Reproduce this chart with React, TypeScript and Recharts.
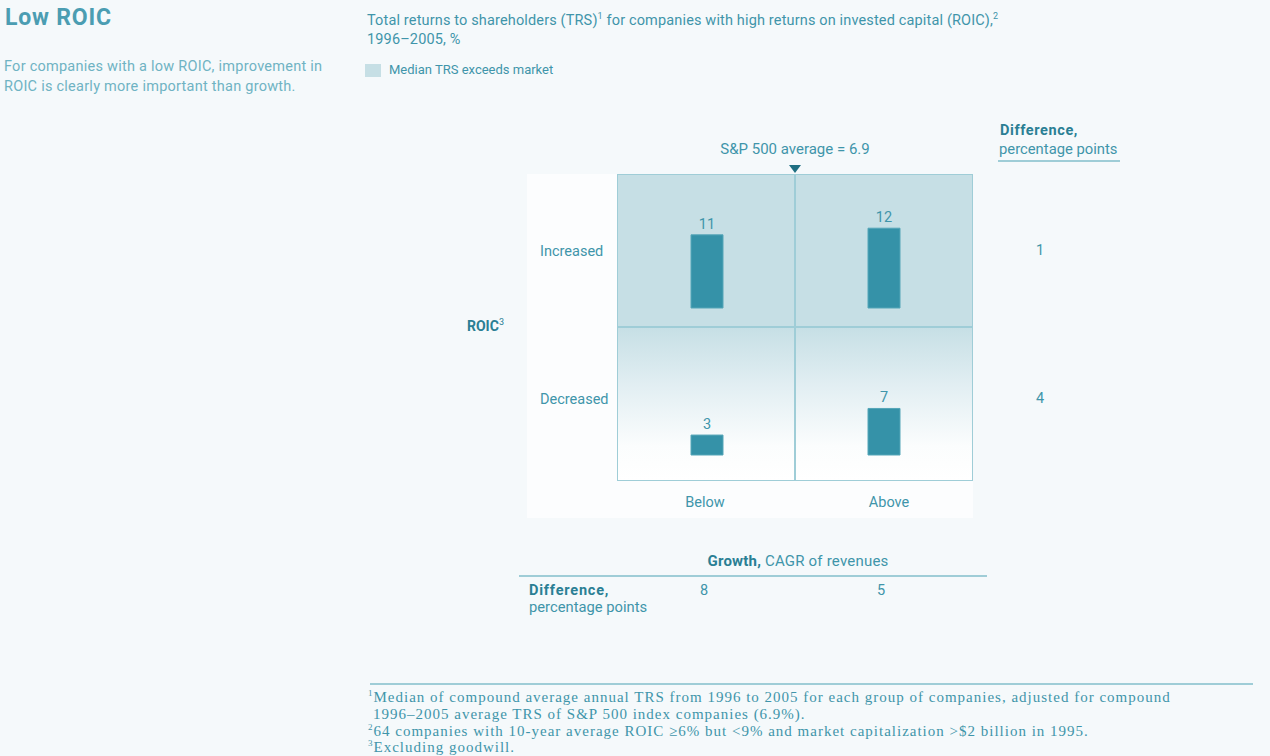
import { BarChart, Bar, XAxis, YAxis, LabelList } from "recharts"

const growthCats = ["Below", "Above"]
const roicRows = ["Increased", "Decreased"]
const increasedTrs = [11, 12]
const decreasedTrs = [3, 7]
const rowDiff = [1, 4]
const colDiff = [8, 5]
const spAverage = 6.9

const teal = "#3f95aa"
const dark = "#2a7f94"
const barColor = "#3592a8"
const gridLine = "#9fcdd7"
const shade = "#c6dfe5"
const font = "Roboto, 'Noto Sans', sans-serif"
const sup = { fontSize: 9, lineHeight: 0 }

const topData = growthCats.map((g, i) => ({ growth: g, trs: increasedTrs[i] }))
const bottomData = growthCats.map((g, i) => ({ growth: g, trs: decreasedTrs[i] }))

const abs = (left: number, top: number, extra: any = {}) => ({ position: "absolute" as const, left, top, ...extra })

function RowChart({ data, height, bottom, max }: { data: any[]; height: number; bottom: number; max: number }) {
  return (
    <BarChart width={354} height={height} data={data} margin={{ top: 0, right: 0, bottom, left: 0 }} barSize={32}>
      <XAxis dataKey="growth" hide />
      <YAxis hide domain={[0, max]} />
      <Bar dataKey="trs" fill={barColor} stroke="#55a6b8" strokeWidth={1} isAnimationActive={false}>
        <LabelList dataKey="trs" position="top" offset={6} fill={teal} fontSize={14.5} fontFamily={font} />
      </Bar>
    </BarChart>
  )
}

export default function App() {
  return (
    <div style={{ position: "absolute", left: 0, top: 0, width: 1270, height: 756, background: "#f5f9fb", fontFamily: font, color: teal, overflow: "hidden" }}>
      {/* left intro */}
      <div style={abs(5, 4, { fontSize: 23, fontWeight: 700, letterSpacing: 0.8, color: "#4b9db2" })}>Low ROIC</div>
      <div style={abs(4, 57, { fontSize: 14.5, letterSpacing: 0.25, lineHeight: "20px", color: "#6fb3c3", width: 350 })}>
        For companies with a low ROIC, improvement in<br />ROIC is clearly more important than growth.
      </div>

      {/* header */}
      <div style={abs(367, 11, { fontSize: 14.5, letterSpacing: 0.15, lineHeight: "19px", width: 700 })}>
        Total returns to shareholders (TRS)<sup style={sup}>1</sup> for companies with high returns on invested capital (ROIC),<sup style={sup}>2</sup>
        <br />1996–2005, %
      </div>
      <div style={abs(365, 64, { width: 16, height: 13, background: shade })} />
      <div style={abs(389, 62, { fontSize: 13 })}>Median TRS exceeds market</div>

      {/* white panel */}
      <div style={abs(527, 174, { width: 446, height: 344, background: "#fcfdfe" })} />

      {/* S&P marker */}
      <div style={abs(695, 140, { width: 200, textAlign: "center", fontSize: 15 })}>S&amp;P 500 average = {spAverage}</div>
      <svg style={abs(789, 165)} width={12} height={9}>
        <polygon points="0,0 12,0 6,8" fill="#1f6f82" />
      </svg>

      {/* quadrant backgrounds */}
      <div style={abs(618, 175, { width: 354, height: 152, background: shade })} />
      <div style={abs(618, 327, { width: 354, height: 153, background: `linear-gradient(to bottom, ${shade} 0%, #e3eff3 40%, #fbfdfd 78%, #ffffff 100%)` })} />

      {/* bars */}
      <div style={abs(618, 175)}>
        <RowChart data={topData} height={152} bottom={19} max={20} />
      </div>
      <div style={abs(618, 327)}>
        <RowChart data={bottomData} height={153} bottom={25} max={19.25} />
      </div>

      {/* grid lines */}
      <div style={abs(617, 174, { width: 354, height: 305, border: `1.5px solid ${gridLine}` })} />
      <div style={abs(794, 175, { width: 1.5, height: 305, background: gridLine })} />
      <div style={abs(618, 326, { width: 354, height: 1.5, background: gridLine })} />

      {/* row labels */}
      {roicRows.map((r, i) => (
        <div key={r} style={abs(540, 243 + i * 148, { fontSize: 14.5 })}>{r}</div>
      ))}
      <div style={abs(467, 318, { fontSize: 14, fontWeight: 700, color: dark })}>
        ROIC<sup style={{ ...sup, fontWeight: 400 }}>3</sup>
      </div>

      {/* column labels */}
      {growthCats.map((g, i) => (
        <div key={g} style={abs(655 + i * 184, 494, { width: 100, textAlign: "center", fontSize: 14.5 })}>{g}</div>
      ))}

      {/* right difference column */}
      <div style={abs(1000, 122, { fontSize: 14.5, fontWeight: 700, letterSpacing: 0.6, color: dark })}>Difference,</div>
      <div style={abs(999, 140, { fontSize: 14.8 })}>percentage points</div>
      <div style={abs(998, 160, { width: 122, height: 1.5, background: gridLine })} />
      {rowDiff.map((d, i) => (
        <div key={i} style={abs(1036, 242 + i * 148, { fontSize: 14.5 })}>{d}</div>
      ))}

      {/* growth row */}
      <div style={abs(648, 552, { width: 300, textAlign: "center", fontSize: 15, letterSpacing: 0.2 })}>
        <b style={{ color: dark }}>Growth,</b> CAGR of revenues
      </div>
      <div style={abs(519, 575, { width: 468, height: 1.5, background: gridLine })} />
      <div style={abs(529, 582, { fontSize: 14.5, fontWeight: 700, letterSpacing: 0.8, color: dark })}>Difference,</div>
      <div style={abs(529, 598, { fontSize: 14.75 })}>percentage points</div>
      {colDiff.map((d, i) => (
        <div key={i} style={abs(700 + i * 177, 582, { fontSize: 14.5 })}>{d}</div>
      ))}

      {/* footnotes */}
      <div style={abs(370, 683, { width: 883, height: 1.5, background: gridLine })} />
      <div style={abs(368, 689, { fontFamily: "'Liberation Serif', 'DejaVu Serif', serif", fontSize: 15, letterSpacing: 1.0, lineHeight: "16.8px", color: teal, width: 900 })}>
        <div><sup style={sup}>1</sup>Median of compound average annual TRS from 1996 to 2005 for each group of companies, adjusted for compound</div>
        <div style={{ paddingLeft: 5 }}>1996–2005 average TRS of S&amp;P 500 index companies (6.9%).</div>
        <div><sup style={sup}>2</sup>64 companies with 10-year average ROIC ≥6% but &lt;9% and market capitalization &gt;$2 billion in 1995.</div>
        <div><sup style={sup}>3</sup>Excluding goodwill.</div>
      </div>
    </div>
  )
}
